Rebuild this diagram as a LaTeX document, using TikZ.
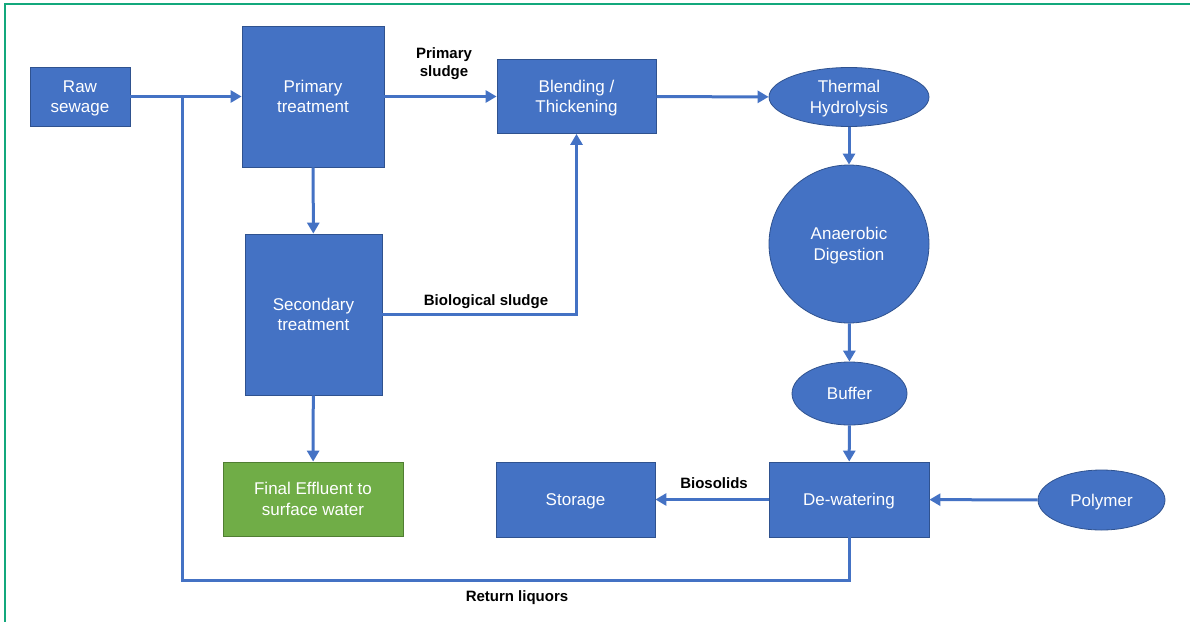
\documentclass[tikz,border=0pt]{standalone}
\usepackage{fontspec}
\setmainfont{Liberation Sans}
\usetikzlibrary{shapes.geometric,arrows.meta}
\definecolor{boxblue}{HTML}{4472C4}
\definecolor{boxedge}{HTML}{2F528F}
\definecolor{effgreen}{HTML}{70AD47}
\definecolor{effedge}{HTML}{507E32}
\definecolor{framegreen}{HTML}{13A87C}

\begin{document}
\begin{tikzpicture}[x=1pt,y=-1pt,
  proc/.style={draw=boxedge, line width=0.8pt, fill=boxblue, text=white,
    align=center, inner sep=0pt, text depth=0pt, font=\fontsize{17}{20.5}\selectfont},
  stage/.style={proc, rectangle},
  vessel/.style={proc, ellipse},
  outlet/.style={stage, draw=effedge, fill=effgreen},
  pipe/.style={draw=boxblue, line width=3pt},
  flow/.style={pipe, -{Triangle[length=11pt,width=12pt]}},
  tag/.style={font=\bfseries\fontsize{15}{18.5}\selectfont, align=center,
    text depth=0pt, text=black}
]
\useasboundingbox (0,0) rectangle (1190,621);
% frame along the top and left edges
\draw[framegreen, line width=2pt] (5,640) -- (5,4) -- (1200,4);

% process units
\node[stage, minimum width=100pt, minimum height=59pt] (raw) at (80,96.5) {Raw\\sewage};
\node[stage, minimum width=142pt, minimum height=141pt] (prim) at (313,96.5) {Primary\\treatment};
\node[stage, minimum width=159pt, minimum height=74pt] (blend) at (576.5,96.5) {Blending /\\Thickening};
\node[vessel, minimum width=160pt, minimum height=59pt] (thh) at (849,97) {Thermal\\Hydrolysis};
\node[vessel, minimum width=160pt, minimum height=158pt] (ad) at (849,244) {Anaerobic\\Digestion};
\node[vessel, minimum width=115pt, minimum height=63pt] (buf) at (849.5,393.5) {Buffer};
\node[stage, minimum width=160pt, minimum height=75pt] (dew) at (849,499.5) {De-watering};
\node[vessel, minimum width=127pt, minimum height=60pt] (poly) at (1101.5,500) {Polymer};
\node[stage, minimum width=159pt, minimum height=75pt] (store) at (575.5,499.5) {Storage};
\node[stage, minimum width=137pt, minimum height=161pt] (sec) at (313.5,314.5) {Secondary\\treatment};
\node[outlet, minimum width=180pt, minimum height=74pt] (eff) at (313,499) {Final Effluent to\\surface water};

% return-liquor route corners
\coordinate (retlow) at (182,580);
\coordinate (retjoin) at (182,96.5);

% flows
\draw[flow] (raw) -- (prim);
\draw[flow] (prim) -- (blend);
\draw[flow] (blend) -- (thh);
\draw[flow] (thh) -- (ad);
\draw[flow] (ad) -- (buf);
\draw[flow] (buf) -- (dew);
\draw[flow] (poly) -- (dew);
\draw[flow] (dew) -- (store);
\draw[flow] (prim) -- (sec);
\draw[flow] (sec) -- (eff);
\draw[flow] (sec.east) -| (blend.south);
\draw[pipe] (dew.south) |- (retlow) -- (retjoin);

% flow labels
\node[tag] (lps) at (444,62) {Primary\\sludge};
\node[tag] (lbs) at (486,300) {Biological sludge};
\node[tag] (lbio) at (714,483) {Biosolids};
\node[tag] (lret) at (517,596) {Return liquors};
\end{tikzpicture}
\end{document}
